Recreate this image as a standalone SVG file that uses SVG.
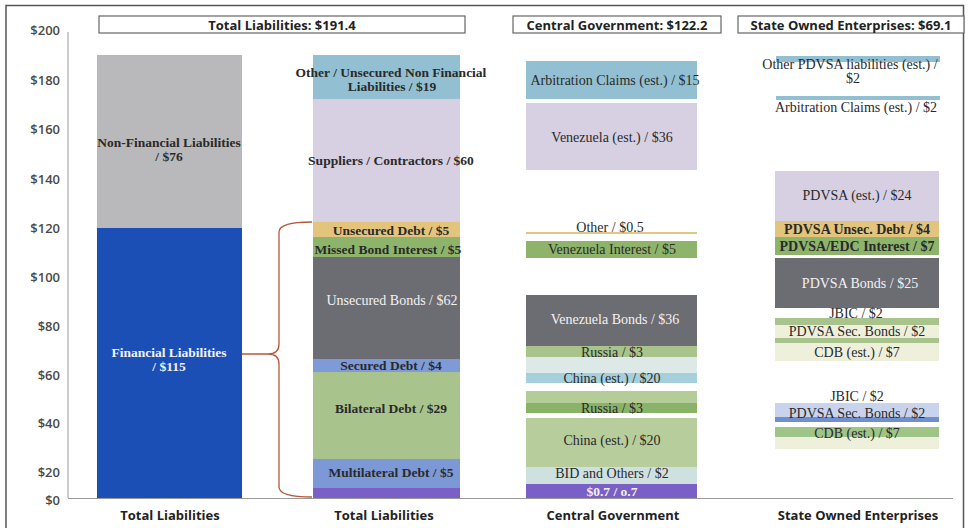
<svg xmlns="http://www.w3.org/2000/svg" width="968" height="528" viewBox="0 0 968 528">
<style>
.ax{font-family:"Open Sans","Liberation Sans",sans-serif;font-size:13px;font-weight:600;fill:#4a4a4a;text-anchor:end;dominant-baseline:central}
.hd{font-family:"Open Sans","Liberation Sans",sans-serif;font-size:13px;font-weight:700;fill:#222;text-anchor:middle;dominant-baseline:central}
.hb{fill:#fff;stroke:#666;stroke-width:1.2}
.vb{font-family:"Liberation Serif",serif;font-size:13.5px;font-weight:700;fill:#2a2a2a;text-anchor:middle;dominant-baseline:central}
.vr{font-family:"Liberation Serif",serif;font-size:14px;fill:#2a2a2a;text-anchor:middle;dominant-baseline:central}
.v4b{font-family:"Liberation Serif",serif;font-size:14px;font-weight:700;fill:#2a2a2a;text-anchor:middle;dominant-baseline:central}
.w{fill:#f2f2f2}
</style>
<rect width="968" height="528" fill="#fff"/>
<path d="M6 528 V5.5 H963.5 V528" fill="none" stroke="#555" stroke-width="1.5"/>
<g id="axis">
<line x1="68" y1="32" x2="68" y2="498" stroke="#aaa" stroke-width="1.2"/>
<line x1="68" y1="498.5" x2="953" y2="498.5" stroke="#999" stroke-width="1.2"/>
<text class="ax" x="60" y="30">$200</text>
<text class="ax" x="60" y="80">$180</text>
<text class="ax" x="60" y="129">$160</text>
<text class="ax" x="60" y="179">$140</text>
<text class="ax" x="60" y="228">$120</text>
<text class="ax" x="60" y="277">$100</text>
<text class="ax" x="60" y="326">$80</text>
<text class="ax" x="60" y="375">$60</text>
<text class="ax" x="60" y="423">$40</text>
<text class="ax" x="60" y="472">$20</text>
<text class="ax" x="60" y="500">$0</text>
<text class="hd" x="170" y="515">Total Liabilities</text>
<text class="hd" x="384" y="515">Total Liabilities</text>
<text class="hd" x="613" y="515">Central Government</text>
<text class="hd" x="858" y="515">State Owned Enterprises</text>
</g>
<g id="headers">
<rect class="hb" x="99" y="16" width="366" height="17"/>
<text class="hd" x="282" y="24.5">Total Liabilities: $191.4</text>
<rect class="hb" x="513" y="16" width="208" height="17"/>
<text class="hd" x="617" y="24.5">Central Government: $122.2</text>
<rect class="hb" x="738" y="16" width="226" height="17"/>
<text class="hd" x="851" y="24.5">State Owned Enterprises: $69.1</text>
</g>
<g id="col1">
<rect x="97" y="55" width="145" height="173" fill="#b9b9bc"/>
<rect x="97" y="228" width="145" height="270" fill="#1c4fb6"/>
<text class="vb" x="169" y="142">Non-Financial Liabilities</text>
<text class="vb" x="169" y="156">/ $76</text>
<text class="vb w" x="169" y="352">Financial Liabilities</text>
<text class="vb w" x="169" y="366">/ $115</text>
</g>
<g id="col2">
<rect x="313" y="55" width="147" height="44" fill="#93bfd2"/>
<rect x="313" y="99" width="147" height="123" fill="#d7cfe2"/>
<rect x="313" y="222" width="147" height="15" fill="#e3c47c"/>
<rect x="313" y="237" width="147" height="20" fill="#8db46a"/>
<rect x="313" y="257" width="147" height="102" fill="#6c6c73"/>
<rect x="313" y="359" width="147" height="13" fill="#7e9ad8"/>
<rect x="313" y="372" width="147" height="87" fill="#a8c38b"/>
<rect x="313" y="459" width="147" height="29" fill="#7d98d6"/>
<rect x="313" y="488" width="147" height="10" fill="#7a5fc6"/>
<text class="vb" x="391" y="72">Other / Unsecured Non Financial</text>
<text class="vb" x="392" y="86">Liabilities / $19</text>
<text class="vb" x="391" y="160">Suppliers / Contractors / $60</text>
<text class="vb" x="391" y="230">Unsecured Debt / $5</text>
<text class="vb" x="388" y="249">Missed Bond Interest / $5</text>
<text class="vr w" x="392" y="300">Unsecured Bonds / $62</text>
<text class="vb" x="391" y="365">Secured Debt / $4</text>
<text class="vb" x="391" y="408">Bilateral Debt / $29</text>
<text class="vb" x="391" y="472">Multilateral Debt / $5</text>
</g>
<g id="col3">
<rect x="526" y="61" width="171" height="38" fill="#93bfd2"/>
<rect x="526" y="103" width="171" height="67" fill="#d7cfe2"/>
<line x1="526" y1="233" x2="697" y2="233" stroke="#d9b45a" stroke-width="1.5"/>
<rect x="526" y="241" width="171" height="17" fill="#8db46a"/>
<rect x="526" y="295" width="171" height="51" fill="#6c6c73"/>
<rect x="526" y="346" width="171" height="11" fill="#a8c38b"/>
<rect x="526" y="357" width="171" height="16" fill="#dde9e7"/>
<rect x="526" y="373" width="171" height="10" fill="#a6cfdd"/>
<rect x="526" y="391" width="171" height="12" fill="#b4cc98"/>
<rect x="526" y="403" width="171" height="10" fill="#8ab36a"/>
<rect x="526" y="418" width="171" height="49" fill="#b7cd9c"/>
<rect x="526" y="467" width="171" height="17" fill="#cfe0e1"/>
<rect x="526" y="484" width="171" height="14" fill="#7a5fc6"/>
<text class="vr" x="615" y="80">Arbitration Claims (est.) / $15</text>
<text class="vr" x="612" y="137">Venezuela (est.) / $36</text>
<text class="vr" x="610" y="227">Other / $0.5</text>
<text class="vr" x="612" y="249">Venezuela Interest / $5</text>
<text class="vr w" x="615" y="319">Venezuela Bonds / $36</text>
<text class="vr" x="612" y="352">Russia / $3</text>
<text class="vr" x="612" y="378">China (est.) / $20</text>
<text class="vr" x="612" y="408">Russia / $3</text>
<text class="vr" x="612" y="440">China (est.) / $20</text>
<text class="vr" x="612" y="473">BID and Others / $2</text>
<text class="vb w" x="612" y="491">$0.7 / o.7</text>
</g>
<g id="col4">
<rect x="776" y="56" width="164" height="6" fill="#93bfd2"/>
<rect x="776" y="96" width="164" height="4" fill="#93bfd2"/>
<rect x="775" y="171" width="164" height="50" fill="#d7cfe2"/>
<rect x="775" y="221" width="164" height="16" fill="#e3c47c"/>
<rect x="775" y="237" width="164" height="18" fill="#8db46a"/>
<rect x="775" y="258" width="164" height="50" fill="#6c6c73"/>
<rect x="775" y="318" width="164" height="7" fill="#a8c38b"/>
<rect x="775" y="325" width="164" height="13" fill="#eef0dc"/>
<rect x="775" y="338" width="164" height="5" fill="#a8c38b"/>
<rect x="775" y="343" width="164" height="18" fill="#eef0dc"/>
<rect x="775" y="403" width="164" height="14" fill="#c9d3ee"/>
<rect x="775" y="417" width="164" height="5" fill="#6f8fd0"/>
<rect x="775" y="427" width="164" height="10" fill="#9fc487"/>
<rect x="775" y="437" width="164" height="12" fill="#eef0dc"/>
<text class="vr" x="850" y="64">Other PDVSA liabilities (est.) /</text>
<text class="vr" x="853" y="78">$2</text>
<text class="vr" x="856" y="107">Arbitration Claims (est.) / $2</text>
<text class="vr" x="857" y="195">PDVSA (est.) / $24</text>
<text class="v4b" x="857" y="229">PDVSA Unsec. Debt / $4</text>
<text class="v4b" x="857" y="246">PDVSA/EDC Interest / $7</text>
<text class="vr w" x="860" y="283">PDVSA Bonds / $25</text>
<text class="vr" x="856" y="313">JBIC / $2</text>
<text class="vr" x="857" y="331">PDVSA Sec. Bonds / $2</text>
<text class="vr" x="857" y="352">CDB (est.) / $7</text>
<text class="vr" x="857" y="396">JBIC / $2</text>
<text class="vr" x="857" y="413">PDVSA Sec. Bonds / $2</text>
<text class="vr" x="857" y="433">CDB (est.) / $7</text>
</g>
<g id="connectors">
<path d="M312 222 Q279 222 279 232 V344 Q279 354 268 354 H242 M268 354 Q279 354 279 364 V487 Q279 497 312 497" fill="none" stroke="#b5583c" stroke-width="1.3"/>
</g>
</svg>
